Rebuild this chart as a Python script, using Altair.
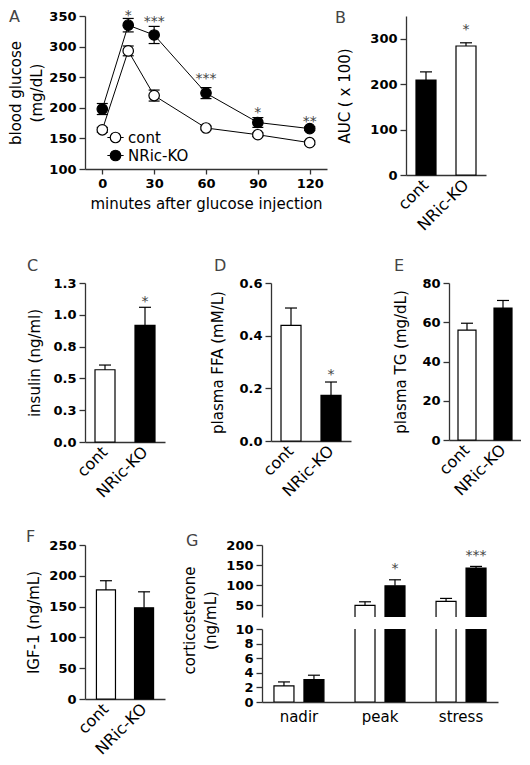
import altair as alt
import pandas as pd

FONT = "DejaVu Sans"
AX = "#333333"

genotypes = ["cont", "NRic-KO"]

# ---------------- A: glucose tolerance test ----------------
a_minutes = [0, 15, 30, 60, 90, 120]
a_cont_mean = [164, 293, 220, 167, 156, 143]
a_cont_sem = [4, 8, 9, 3, 3, 3]
a_ko_mean = [198, 335, 319, 224, 176, 166]
a_ko_sem = [9, 11, 14, 9, 8, 3]
a_sig_minutes = [15, 30, 60, 90, 120]
a_sig_text = ["*", "***", "***", "*", "**"]
a_sig_at = [357, 347, 253, 198, 183]
a_ticks_x = [0, 30, 60, 90, 120]
a_ticks_y = [100, 150, 200, 250, 300, 350]

# ---------------- B: AUC ----------------
b_auc = [209, 284]
b_auc_sem = [18, 7]
b_sig_geno = ["NRic-KO"]
b_sig_text = ["*"]
b_sig_at = [328]

# ---------------- C: insulin ----------------
c_insulin = [0.568, 0.917]
c_insulin_sem = [0.037, 0.142]
c_sig_geno = ["NRic-KO"]
c_sig_text = ["*"]
c_sig_at = [1.136]

# ---------------- D: plasma FFA ----------------
d_ffa = [0.439, 0.173]
d_ffa_sem = [0.066, 0.051]
d_sig_geno = ["NRic-KO"]
d_sig_text = ["*"]
d_sig_at = [0.267]

# ---------------- E: plasma TG ----------------
e_tg = [56.0, 67.2]
e_tg_sem = [3.5, 3.9]

# ---------------- F: IGF-1 ----------------
f_igf = [177, 148]
f_igf_sem = [15, 26]

# ---------------- G: corticosterone ----------------
g_conditions = ["nadir", "peak", "stress"]
g_cont = [2.2, 49, 59]
g_cont_sem = [0.55, 9, 7.5]
g_ko = [3.07, 98, 142.5]
g_ko_sem = [0.6, 15, 4]
g_sig_cond = ["peak", "stress"]
g_sig_text = ["*", "***"]
g_sig_at = [149, 182]

# legend glyph: circle with a short line through it (line-and-symbol key)
LEGEND_GLYPH = "M-1.55,0L-1,0M1,0L1.55,0M1,0A1,1,0,1,1,-1,0A1,1,0,1,1,1,0Z"


def letter(text, dx, dy):
    return alt.TitleParams(text=text, anchor="start", frame="group", dx=dx, dy=dy,
                           offset=0, fontSize=16, fontWeight="normal", color="#444444",
                           font=FONT, baseline="alphabetic")


def sig_mark():
    return dict(fontSize=14, baseline="middle", dy=4, color="#444444", font=FONT)


def geno_fill(cont_colour, ko_colour):
    return alt.condition(alt.datum.geno == "cont", alt.value(cont_colour), alt.value(ko_colour))


# ---------------- panel A ----------------
a_df = pd.DataFrame({
    "minutes": a_minutes * 2,
    "mean": a_cont_mean + a_ko_mean,
    "sem": a_cont_sem + a_ko_sem,
    "geno": ["cont"] * len(a_minutes) + ["NRic-KO"] * len(a_minutes),
})
a_df["lo"] = a_df["mean"] - a_df["sem"]
a_df["hi"] = a_df["mean"] + a_df["sem"]
a_sig = pd.DataFrame({"minutes": a_sig_minutes, "txt": a_sig_text, "at": a_sig_at})

ax_x = alt.X("minutes:Q", scale=alt.Scale(domain=[-10, 130], nice=False, zero=False),
             axis=alt.Axis(title="minutes after glucose injection", values=a_ticks_x,
                           tickSize=5, labelPadding=3, titlePadding=6))


def ay(field):
    return alt.Y(f"{field}:Q", scale=alt.Scale(domain=[100, 350], nice=False, zero=False),
                 axis=alt.Axis(title=["blood glucose", "(mg/dL)"], values=a_ticks_y,
                               titlePadding=4, titleLineHeight=21))


a_base = alt.Chart(a_df)
a_lines = a_base.mark_line(color="black", strokeWidth=1).encode(ax_x, ay("mean"), detail="geno:N")
a_err = a_base.mark_rule(color="black", strokeWidth=1.2).encode(ax_x, ay("lo"), y2="hi:Q")
a_cap_hi = a_base.mark_tick(orient="horizontal", size=11, thickness=1.2, color="black",
                            opacity=1).encode(ax_x, ay("hi"))
a_cap_lo = a_base.mark_tick(orient="horizontal", size=11, thickness=1.2, color="black",
                            opacity=1).encode(ax_x, ay("lo"))
a_pts = a_base.mark_point(shape="circle", filled=True, size=110, stroke="black",
                          strokeWidth=1.2, opacity=1).encode(
    ax_x, ay("mean"),
    fill=alt.Fill("geno:N", scale=alt.Scale(domain=genotypes, range=["white", "black"]),
                  legend=alt.Legend(title=None, orient="none", legendX=23, legendY=114,
                                    labelFontSize=15, labelFont=FONT, labelColor="black",
                                    symbolType=LEGEND_GLYPH, symbolSize=110,
                                    symbolStrokeColor="black", symbolStrokeWidth=1.2,
                                    labelOffset=5, rowPadding=1, padding=0)))
a_txt = alt.Chart(a_sig).mark_text(**sig_mark()).encode(ax_x, ay("at"), text="txt:N")
panel_a = alt.layer(a_lines, a_err, a_cap_hi, a_cap_lo, a_pts, a_txt).properties(
    width=242, height=153, title=letter("A", -76, 29))


# ---------------- bar panels ----------------
def bar_panel(values, sems, fills, ytitle, domain, ticks, fmt, width, height, pad_outer,
              let, let_dx, let_dy, tpad, sig_geno=None, sig_text=None, sig_at=None):
    df = pd.DataFrame({"geno": genotypes, "v": values,
                       "hi": [v + s for v, s in zip(values, sems)]})
    x = alt.X("geno:N", sort=genotypes,
              scale=alt.Scale(paddingInner=0.5, paddingOuter=pad_outer),
              axis=alt.Axis(title=None, labelAngle=-45, labelAlign="right",
                            labelBaseline="middle", ticks=False, labelPadding=7,
                            labelFontSize=16, labelFontWeight="normal"))

    def y(field):
        return alt.Y(f"{field}:Q", scale=alt.Scale(domain=domain, nice=False, zero=False),
                     axis=alt.Axis(title=ytitle, values=ticks, format=fmt, titlePadding=tpad))

    base = alt.Chart(df)
    bars = base.mark_bar(stroke="black", strokeWidth=1.2, opacity=1).encode(
        x, y("v"), fill=geno_fill(*fills))
    err = base.mark_rule(color="black", strokeWidth=1.2).encode(x, y("v"), y2="hi:Q")
    cap = base.mark_tick(orient="horizontal", size=12, thickness=1.2, color="black",
                         opacity=1).encode(x, y("hi"))
    layers = [bars, err, cap]
    if sig_geno:
        sdf = pd.DataFrame({"geno": sig_geno, "txt": sig_text, "at": sig_at})
        layers.append(alt.Chart(sdf).mark_text(**sig_mark()).encode(
            x, y("at"), text="txt:N"))
    return alt.layer(*layers).properties(width=width, height=height,
                                         title=letter(let, let_dx, let_dy))


panel_b = bar_panel(b_auc, b_auc_sem, ["black", "white"], "AUC ( x 100)", [0, 350],
                    [0, 100, 200, 300], "d", 80, 159, 0.25, "B", -71, 22.6, 17,
                    b_sig_geno, b_sig_text, b_sig_at)
panel_c = bar_panel(c_insulin, c_insulin_sem, ["white", "black"], "insulin (ng/ml)",
                    [0, 1.25], [0, 0.25, 0.5, 0.75, 1.0, 1.25], ".1f", 80, 159, 0.25,
                    "C", -58, 9.5, 10, c_sig_geno, c_sig_text, c_sig_at)
panel_d = bar_panel(d_ffa, d_ffa_sem, ["white", "black"], "plasma FFA (mM/L)",
                    [0, 0.6], [0, 0.2, 0.4, 0.6], ".1f", 80, 158, 0.25,
                    "D", -57, 9.5, 13, d_sig_geno, d_sig_text, d_sig_at)
panel_e = bar_panel(e_tg, e_tg_sem, ["white", "black"], "plasma TG (mg/dL)",
                    [0, 80], [0, 20, 40, 60, 80], "d", 72, 157, 0.25,
                    "E", -55, 9.5, 13)
panel_f = bar_panel(f_igf, f_igf_sem, ["white", "black"], "IGF-1 (ng/mL)",
                    [0, 250], [0, 50, 100, 150, 200, 250], "d", 80, 154, 0.3,
                    "F", -59, 18.5, 7)

# ---------------- panel G (broken axis) ----------------
g_df = pd.DataFrame({
    "cond": g_conditions * 2,
    "geno": ["cont"] * 3 + ["NRic-KO"] * 3,
    "v": g_cont + g_ko,
    "sem": g_cont_sem + g_ko_sem,
})
g_df["hi"] = g_df["v"] + g_df["sem"]
g_sig = pd.DataFrame({"cond": g_sig_cond, "geno": ["NRic-KO"] * 2,
                      "txt": g_sig_text, "at": g_sig_at})

g_xo = alt.XOffset("geno:N", sort=genotypes,
                   scale=alt.Scale(paddingInner=1 / 3, paddingOuter=1 / 6))


def g_x(show):
    sc = alt.Scale(paddingInner=0.26, paddingOuter=0.086)
    if show:
        return alt.X("cond:N", sort=g_conditions, scale=sc,
                     axis=alt.Axis(title=None, labelAngle=0, ticks=False, labelPadding=7,
                                   labelFontSize=15, labelFontWeight="normal"))
    return alt.X("cond:N", sort=g_conditions, scale=sc, axis=None)


def g_segment(domain, ticks, show_x, ytitle, height, extra=None):
    def y(field):
        if ytitle:
            ax = alt.Axis(title=ytitle, values=ticks, titlePadding=16, titleLineHeight=21,
                          titleY=-9)
        else:
            ax = alt.Axis(title=None, values=ticks)
        return alt.Y(f"{field}:Q", scale=alt.Scale(domain=domain, nice=False, zero=False),
                     axis=ax)

    xx = g_x(show_x)
    base = alt.Chart(g_df)
    bars = base.mark_bar(stroke="black", strokeWidth=1.2, opacity=1, clip=True).encode(
        xx, g_xo, y("v"), fill=geno_fill("white", "black"))
    err = base.mark_rule(color="black", strokeWidth=1.2, clip=True).encode(
        xx, g_xo, y("v"), y2="hi:Q")
    cap = base.mark_tick(orient="horizontal", size=12, thickness=1.2, color="black",
                         opacity=1, clip=True).encode(xx, g_xo, y("hi"))
    layers = [bars, err, cap]
    if extra is not None:
        layers.append(alt.Chart(extra).mark_text(**sig_mark()).encode(
            xx, g_xo, y("at"), text="txt:N"))
    return alt.layer(*layers).properties(width=236, height=height)


g_top = g_segment([20, 200], [50, 100, 150, 200], False, None, 72, g_sig).properties(
    title=letter("G", -76, 22.5))
g_bot = g_segment([0, 10], [0, 2, 4, 6, 8, 10], True, ["corticosterone", "(ng/mL)"], 73)
panel_g = alt.vconcat(g_top, g_bot, spacing=12, bounds="flush")

# ---------------- layout ----------------
row1 = alt.hconcat(panel_a, panel_b, spacing=8)
row2 = alt.hconcat(panel_c, alt.hconcat(panel_d, panel_e, spacing=42), spacing=45)
row3 = alt.hconcat(panel_f, panel_g, spacing=17)

chart = alt.vconcat(
    row1, alt.vconcat(row2, row3, spacing=27), spacing=23
).properties(padding=0).configure_view(stroke=None).configure_axis(
    labelFont=FONT, titleFont=FONT, labelFontSize=13, labelFontWeight="bold",
    labelColor="black", titleFontSize=15, titleFontWeight="normal", titleColor="black",
    domainColor=AX, tickColor=AX, domainWidth=1.3, tickWidth=1.3, tickSize=6,
    labelPadding=3, grid=False,
)

chart.save("out.html", embed_options={"renderer": "svg", "actions": False})
